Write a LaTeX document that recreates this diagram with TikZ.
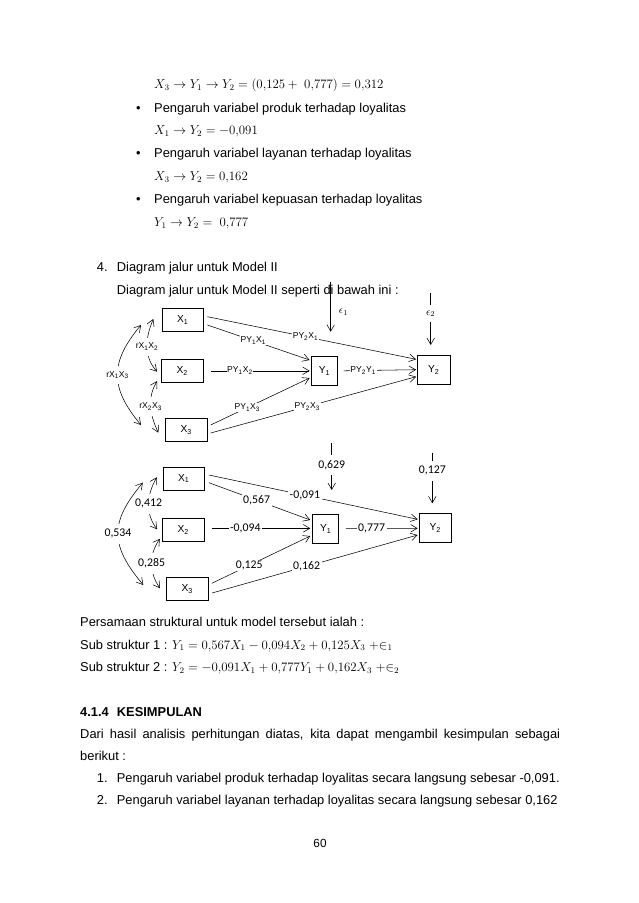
\documentclass[tikz,border=0pt]{standalone}
\usepackage[no-math]{fontspec}
\setmainfont{Liberation Sans}
\newfontfamily\calibri{Carlito}
\usetikzlibrary{arrows.meta}

\begin{document}
\begin{tikzpicture}[x=0.9326pt, y=-0.9326pt,
  txt/.style={anchor=base west, inner sep=0pt, font=\fontsize{12}{14}\selectfont},
  varbox/.style={draw, line width=0.8pt, inner sep=0pt, minimum width=38.7pt,
                 minimum height=21.3pt, font=\fontsize{9.5}{11}\selectfont},
  ybox/.style={varbox, minimum width=24.2pt, minimum height=27pt},
  ybox2/.style={varbox, minimum width=30.3pt, minimum height=27pt},
  link/.style={line width=0.5pt, -{Straight Barb[length=6pt,width=7pt]}},
  corr/.style={line width=0.5pt,
               {Straight Barb[length=6pt,width=7pt]}-{Straight Barb[length=6pt,width=7pt]}},
  plab/.style={fill=white, inner sep=0.6pt, font=\fontsize{8}{9}\selectfont},
  nlab/.style={fill=white, inner xsep=1.5pt, inner ysep=1pt, font=\calibri\fontsize{11}{12}\selectfont},
  clab/.style={fill=white, inner xsep=0.5pt, inner ysep=5pt, font=\fontsize{8}{9}\selectfont},
  cnum/.style={clab, font=\calibri\fontsize{11}{12}\selectfont}
]
  \fill[white] (0,0) rectangle (638,903);

  % indirect and direct effects
  \node[txt] (eqa) at (154,89) {$X_3 \rightarrow Y_1 \rightarrow Y_2 = (0{,}125 +\ 0{,}777) = 0{,}312$};
  \foreach \n/\y/\var in {1/112.5/produk, 2/158/layanan, 3/204/kepuasan} {
    \node[txt, anchor=base] (dot\n) at (138.3,\y) {\textbullet};
    \node[txt] (pt\n) at (154,\y) {Pengaruh variabel \var\ terhadap loyalitas};
  }
  \node[txt] (eqb) at (154,135) {$X_1 \rightarrow Y_2 = -0{,}091$};
  \node[txt] (eqc) at (154,181) {$X_3 \rightarrow Y_2 = 0{,}162$};
  \node[txt] (eqd) at (154,226.5) {$Y_1 \rightarrow Y_2 =\ 0{,}777$};

  \node[txt] (num4) at (96.7,271) {4.};
  \node[txt] (hd4) at (116.7,271) {Diagram jalur untuk Model II};
  \node[txt] (intro) at (116.7,294) {Diagram jalur untuk Model II seperti di bawah ini :};

  % Model II with path symbols
  \foreach \n/\x/\y/\i in {ax1/182.8/320/1, ax2/182.3/371.3/2, ax3/186.2/430.3/3}
    \node[varbox] (\n) at (\x,\y) {X\textsubscript{\i}};
  \node[ybox] (ay1) at (324.5,370.8) {Y\textsubscript{1}};
  \node[ybox2] (ay2) at (433.8,369.7) {Y\textsubscript{2}};

  \draw[link] ([shift={(3.4,-3.3)}]ax1.east) -- ([shift={(-1,-10.4)}]ay2.west)
    node[plab, pos=0.47] (pa1) {PY\textsubscript{2}X\textsubscript{1}};
  \draw[link] ([shift={(3.4,5)}]ax1.east) -- ([shift={(-1.5,-10.8)}]ay1.west)
    node[plab, pos=0.45] (pa2) {PY\textsubscript{1}X\textsubscript{1}};
  \draw[link] ([shift={(8,-0.5)}]ax2.east) -- ([shift={(-1.5,0)}]ay1.west)
    node[plab, pos=0.29] (pa3) {PY\textsubscript{1}X\textsubscript{2}};
  \draw[link] ([shift={(3.3,-5.3)}]ax3.east) -- ([shift={(-1.5,7.2)}]ay1.west)
    node[plab, pos=0.37] (pa4) {PY\textsubscript{1}X\textsubscript{3}};
  \draw[link] ([shift={(3.3,2.7)}]ax3.east) -- ([shift={(-1,7)}]ay2.west)
    node[plab, pos=0.47] (pa5) {PY\textsubscript{2}X\textsubscript{3}};
  \draw[link] ([shift={(5.7,0)}]ay1.east) -- ([shift={(-1,0)}]ay2.west)
    node[plab, pos=0.27] (pa6) {PY\textsubscript{2}Y\textsubscript{1}};

  % correlations
  \draw[corr] ([shift={(-20.6,5)}]ax1.west) to[out=230, in=130, looseness=1.25]
    node[clab] (ra13) {rX\textsubscript{1}X\textsubscript{3}} ([shift={(-24,-5.3)}]ax3.west);
  \draw[corr] ([shift={(-8.3,-1)}]ax1.west) to[out=247, in=132]
    node[clab] (ra12) {rX\textsubscript{1}X\textsubscript{2}} ([shift={(-4,0.4)}]ax2.west);
  \draw[corr] ([shift={(-4,-2)}]ax2.south west) to[out=239, in=115]
    node[clab] (ra23) {rX\textsubscript{2}X\textsubscript{3}} ([shift={(-6.7,2.4)}]ax3.west);

  % errors
  \coordinate (ea) at (330.7,281.7);
  \coordinate (ea end) at (330.7,331.7);
  \draw[link] (ea) -- (ea end);
  \node[font=\fontsize{10}{11}\selectfont] (ealab) at (343.5,312) {$\epsilon_1$};
  \coordinate (eb) at (430.7,293);
  \coordinate (eb end) at (430.7,345);
  \draw[link] (eb) -- (eb end)
    node[clab, pos=0.4, font=\fontsize{10}{11}\selectfont] (eblab) {$\epsilon_2$};

  % Model II with coefficients
  \foreach \n/\x/\y/\i in {bx1/183.7/478.7/1, bx2/183.3/530/2, bx3/187.2/589/3}
    \node[varbox] (\n) at (\x,\y) {X\textsubscript{\i}};
  \node[ybox] (by1) at (325.7,528.7) {Y\textsubscript{1}};
  \node[ybox2] (by2) at (435.3,527.7) {Y\textsubscript{2}};

  \draw[link] ([shift={(4,-3.7)}]bx1.east) -- ([shift={(-1,-8.4)}]by2.west)
    node[nlab, pos=0.46] (pb1) {-0,091};
  \draw[link] ([shift={(4,4)}]bx1.east) -- ([shift={(-2,-8.7)}]by1.west)
    node[nlab, pos=0.47] (pb2) {0,567};
  \draw[link] ([shift={(7.4,-1.7)}]bx2.east) -- ([shift={(-2,-0.4)}]by1.west)
    node[nlab, pos=0.34] (pb3) {-0,094};
  \draw[link] ([shift={(3.4,-5.7)}]bx3.east) -- ([shift={(-2,7.3)}]by1.west)
    node[nlab, pos=0.38] (pb4) {0,125};
  \draw[link] ([shift={(3.7,4)}]bx3.east) -- ([shift={(-1,7.3)}]by2.west)
    node[nlab, pos=0.46] (pb5) {0,162};
  \draw[link] ([shift={(6.7,-0.4)}]by1.east) -- ([shift={(-1,0.6)}]by2.west)
    node[nlab, pos=0.36] (pb6) {0,777};

  \draw[corr] ([shift={(-19.7,4)}]bx1.west) to[out=230, in=130, looseness=1.3]
    node[cnum] (rb13) {0,534} ([shift={(-22.7,-4)}]bx3.west);
  \draw[corr] ([shift={(-5.7,-1.4)}]bx1.west) to[out=240, in=127]
    node[cnum] (rb12) {0,412} ([shift={(-5,-0.7)}]bx2.west);
  \draw[corr] ([shift={(-2.3,-3)}]bx2.south west) to[out=235, in=125]
    node[cnum] (rb23) {0,285} ([shift={(-6,-0.7)}]bx3.west);

  \coordinate (ec) at (331.7,443);
  \coordinate (ec end) at (331.7,490);
  \draw[link] (ec) -- (ec end) node[cnum, pos=0.47] (eclab) {0,629};
  \coordinate (ed) at (432.3,452.7);
  \coordinate (ed end) at (432.3,503.3);
  \draw[link] (ed) -- (ed end) node[cnum, pos=0.36] (edlab) {0,127};

  % structural equations and conclusion
  \node[txt] (pers) at (80,626) {Persamaan struktural untuk model tersebut ialah :};
  \node[txt] (sub1) at (80,649) {Sub struktur 1 : $Y_1 = 0{,}567X_1 - 0{,}094X_2 + 0{,}125X_3\ {+}{\in}_1$};
  \node[txt] (sub2) at (80,671.5) {Sub struktur 2 : $Y_2 = -0{,}091X_1 + 0{,}777Y_1 + 0{,}162X_3\ {+}{\in}_2$};
  \node[txt, font=\fontsize{12}{14}\selectfont\bfseries] (secnum) at (80,716) {4.1.4};
  \node[txt, font=\fontsize{12}{14}\selectfont\bfseries] (sectit) at (116.7,716) {KESIMPULAN};
  \node[txt] (par1) at (80,738) {\makebox[447.6pt][s]{Dari hasil analisis perhitungan diatas, kita dapat mengambil kesimpulan sebagai}};
  \node[txt] (par2) at (80,760) {berikut :};
  \node[txt] (n1) at (96.7,782.5) {1.};
  \node[txt] (k1) at (116.7,782.5) {Pengaruh variabel produk terhadap loyalitas secara langsung sebesar -0,091.};
  \node[txt] (n2) at (96.7,804) {2.};
  \node[txt] (k2) at (116.7,804) {Pengaruh variabel layanan terhadap loyalitas secara langsung sebesar 0,162};
  \node[txt, anchor=base, font=\fontsize{11}{13}\selectfont] (pg) at (320,847) {60};
\end{tikzpicture}
\end{document}
